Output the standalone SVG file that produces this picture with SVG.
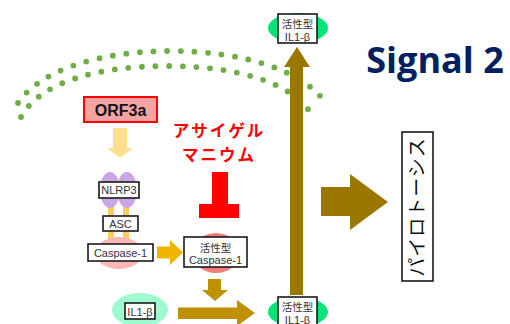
<svg xmlns="http://www.w3.org/2000/svg" width="510" height="324" viewBox="0 0 510 324">
  <style>
    .box { fill: #ffffff; stroke: #1a1a1a; stroke-width: 1.6; }
    .lbl { font-family: "Liberation Sans", "Noto Sans CJK JP", sans-serif; font-size: 11px; fill: #333333; text-anchor: middle; }
    .jp { font-family: "Noto Sans CJK JP", "Liberation Sans", sans-serif; font-size: 10.5px; fill: #333333; text-anchor: middle; }
    .dots { fill: none; stroke: #70ad47; stroke-width: 5.8; stroke-linecap: round; stroke-dasharray: 0 13.6; }
    .gold { fill: #bf9000; }
    .brown { fill: #9c7700; }
    .red { font-family: "Noto Sans CJK JP", sans-serif; font-size: 16.5px; font-weight: bold; fill: #ff0000; text-anchor: middle; letter-spacing: 2px; }
  </style>

  <rect width="510" height="324" fill="#ffffff"/>

  <!-- cell membrane -->
  <g id="membrane">
    <path class="dots" d="M18,103 C40,70 100,51 171,51 C242,51 302,70 325,102"/>
    <path class="dots" d="M21,117 C40,82 98,66 167,66 C236,66 294,82 313,117"/>
  </g>

  <!-- title -->
  <text x="435" y="73" font-family="'Open Sans', 'Liberation Sans', sans-serif" font-size="36" font-weight="bold" fill="#002060" text-anchor="middle">Signal 2</text>

  <!-- connectors -->
  <g id="connectors">
    <!-- ORF3a to NLRP3 -->
    <polygon points="113,128 127,128 127,148 133,148 120,158 107,148 113,148" fill="#fde08c"/>
    <!-- Caspase-1 activation -->
    <polygon points="157,246.5 170,246.5 170,240 183,252.5 170,265 170,258.5 157,258.5" fill="#f0b400"/>
    <!-- active Caspase-1 down -->
    <polygon class="gold" points="208,279 221,279 221,290 228,290 215,301 202,290 208,290"/>
    <!-- IL1-beta to active IL1-beta -->
    <polygon class="gold" points="178,307.5 237,307.5 237,300 255,313 237,326 237,319 178,319"/>
    <!-- release upward -->
    <polygon class="brown" points="290,295 290,67 284,67 297,47 310,67 303,67 303,295"/>
    <!-- to pyroptosis -->
    <polygon class="brown" points="321,187 350,187 350,174 388,202 350,230 350,216 321,216"/>
    <!-- inhibition -->
    <g fill="#ff0000">
      <rect x="212" y="172" width="16" height="34"/>
      <rect x="199" y="204" width="40" height="14"/>
    </g>
  </g>

  <!-- ORF3a -->
  <g id="orf3a">
    <rect x="84" y="97" width="73" height="25" fill="#f4a3a3" stroke="#ff0000" stroke-width="2"/>
    <text x="120.5" y="115.5" font-family="'Liberation Sans', sans-serif" font-size="16" font-weight="bold" fill="#111111" text-anchor="middle">ORF3a</text>
  </g>

  <!-- inhibitor label -->
  <g id="inhibitor">
    <text class="red" x="219" y="136.5">アサイゲル</text>
    <text class="red" x="219" y="160.5">マニウム</text>
  </g>

  <!-- inflammasome -->
  <g id="inflammasome">
    <rect x="108" y="206" width="6" height="36" fill="#f9cf5a"/>
    <rect x="123" y="206" width="6" height="36" fill="#f9cf5a"/>
    <ellipse cx="110" cy="190" rx="10" ry="18" fill="#c9a6e4"/>
    <ellipse cx="127" cy="190" rx="10" ry="18" fill="#c9a6e4"/>
    <ellipse cx="119" cy="253" rx="24" ry="16" fill="#f9b7b7"/>
  </g>
  <g id="nlrp3">
    <rect class="box" x="99" y="182" width="40" height="16"/>
    <text class="lbl" x="119" y="194">NLRP3</text>
  </g>
  <g id="asc">
    <rect class="box" x="103" y="216" width="35" height="15"/>
    <text class="lbl" x="120.5" y="228">ASC</text>
  </g>
  <g id="caspase1">
    <rect class="box" x="88" y="244" width="65" height="17"/>
    <text class="lbl" x="120.5" y="257">Caspase-1</text>
  </g>

  <!-- active Caspase-1 -->
  <g id="active-caspase1">
    <ellipse cx="216" cy="253" rx="23" ry="20" fill="#f27b7b"/>
    <rect class="box" x="184" y="237" width="63" height="30"/>
    <text class="jp" x="215.5" y="251.5">活性型</text>
    <text class="lbl" x="215.5" y="264">Caspase-1</text>
  </g>

  <!-- IL1-beta -->
  <g id="il1b">
    <ellipse cx="140" cy="310" rx="28" ry="17" fill="#9ffad0"/>
    <rect class="box" x="125" y="303" width="30" height="16"/>
    <text class="lbl" x="140" y="315.5">IL1-β</text>
  </g>

  <!-- active IL1-beta (top) -->
  <g id="active-il1b-top">
    <ellipse cx="298" cy="28" rx="30" ry="15" fill="#00e676"/>
    <rect class="box" x="278" y="14" width="39" height="29"/>
    <text class="jp" x="297.5" y="27.5">活性型</text>
    <text class="lbl" x="297.5" y="40.5">IL1-β</text>
  </g>

  <!-- active IL1-beta (bottom) -->
  <g id="active-il1b-bottom">
    <ellipse cx="298" cy="312" rx="30" ry="15" fill="#00e676"/>
    <rect class="box" x="278" y="297" width="39" height="29"/>
    <text class="jp" x="297.5" y="310.5">活性型</text>
    <text class="lbl" x="297.5" y="323.5">IL1-β</text>
  </g>

  <!-- pyroptosis -->
  <g id="pyroptosis">
    <rect class="box" x="402" y="132" width="31" height="149"/>
    <text transform="translate(424,207) rotate(-90)" font-family="'Noto Sans CJK JP', sans-serif" font-size="19" fill="#111111" text-anchor="middle" letter-spacing="1">パイロトーシス</text>
  </g>
</svg>
